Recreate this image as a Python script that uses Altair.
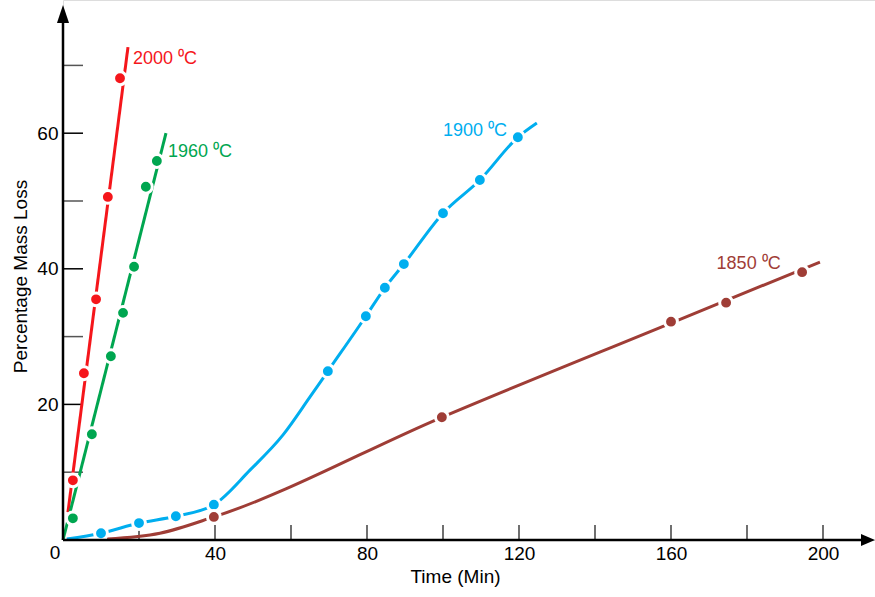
import altair as alt
import pandas as pd

# ---- data ----
series_names = ["2000 ⁰C", "1960 ⁰C", "1900 ⁰C", "1850 ⁰C"]
series_colors = ["#f5161b", "#00a650", "#00aeef", "#9f3d36"]

# marker points
red_x = [2.6, 5.5, 8.7, 11.8, 15.0]
red_y = [8.8, 24.6, 35.5, 50.6, 68.1]
green_x = [2.6, 7.6, 12.6, 15.8, 18.7, 21.8, 24.7]
green_y = [3.2, 15.6, 27.1, 33.5, 40.3, 52.1, 55.9]
blue_x = [10.0, 20.0, 29.7, 39.7, 69.7, 79.7, 84.7, 89.7, 100.0, 109.7, 119.7]
blue_y = [1.0, 2.5, 3.5, 5.2, 24.9, 33.0, 37.2, 40.7, 48.2, 53.1, 59.4]
brown_x = [39.7, 99.7, 160.0, 174.5, 194.5]
brown_y = [3.4, 18.1, 32.2, 35.0, 39.5]

# curve traces (line only, incl. ends beyond markers)
red_line_x = [1.3, 17.1]
red_line_y = [4.1, 72.7]
green_line_x = [0.0, 27.1]
green_line_y = [0.0, 60.0]
blue_line_x = [1.0, 10.0, 20.0, 29.7, 39.7, 49.2, 57.9, 65.0, 69.7, 79.7, 84.7, 89.7, 100.0, 109.7, 119.7, 124.7]
blue_line_y = [0.15, 1.0, 2.5, 3.5, 5.2, 10.3, 15.5, 21.1, 24.9, 33.0, 37.2, 40.7, 48.2, 53.1, 59.4, 61.5]
brown_line_x = [11.6, 25.5, 39.7, 99.7, 160.0, 199.2]
brown_line_y = [0.15, 1.0, 3.4, 18.1, 32.0, 41.0]

label_x = [18.4, 27.6, 100.0, 172.0]
label_y = [71.0, 57.3, 60.3, 40.7]

x_ticks = [20, 40, 60, 80, 100, 120, 140, 160, 180, 200]
x_labels = [40, 80, 120, 160, 200]
y_ticks_major = [20, 40, 60]
y_ticks_minor = [10, 30, 50, 70]

# ---- tables ----
def long(name, xs, ys):
    return pd.DataFrame({"series": name, "x": xs, "y": ys, "order": range(len(xs))})

straight = pd.concat([
    long(series_names[0], red_line_x, red_line_y),
    long(series_names[1], green_line_x, green_line_y),
])
curved = pd.concat([
    long(series_names[2], blue_line_x, blue_line_y),
    long(series_names[3], brown_line_x, brown_line_y),
])
points = pd.concat([
    long(series_names[0], red_x, red_y),
    long(series_names[1], green_x, green_y),
    long(series_names[2], blue_x, blue_y),
    long(series_names[3], brown_x, brown_y),
])
labels = pd.DataFrame({"series": series_names, "x": label_x, "y": label_y})

FONT = "Liberation Sans"
XMAX = 812 / 3.8
YMAX = 540 / 6.78

xs = alt.Scale(domain=[0, XMAX], nice=False, zero=False)
ys = alt.Scale(domain=[0, YMAX], nice=False, zero=False)
col = alt.Color("series:N", scale=alt.Scale(domain=series_names, range=series_colors), legend=None)

ax_x = alt.Axis(values=x_labels, domain=False, ticks=False, grid=False,
                labelFont=FONT, labelFontSize=19, labelColor="#000",
                labelPadding=4, title="Time (Min)", titleFont=FONT,
                titleFontSize=19, titleFontWeight="normal", titleColor="#000",
                titlePadding=4, titleX=392)
ax_y = alt.Axis(values=y_ticks_major, domain=False, ticks=False, grid=False,
                labelFont=FONT, labelFontSize=19, labelColor="#000",
                labelPadding=5, title="Percentage Mass Loss", titleFont=FONT,
                titleFontSize=19, titleFontWeight="normal", titleColor="#000",
                titleX=-37, titleY=276, titleBaseline="alphabetic", titleAngle=270)

bx = alt.X("x:Q", scale=xs, axis=ax_x, title="Time (Min)")
by = alt.Y("y:Q", scale=ys, axis=ax_y, title="Percentage Mass Loss")

def dx(v):
    return alt.datum(v, scale=xs, axis=ax_x, title="Time (Min)")

def dy(v):
    return alt.datum(v, scale=ys, axis=ax_y, title="Percentage Mass Loss")

xtick_layer = alt.Chart(pd.DataFrame({"x": x_ticks})).mark_rule(color="#222", strokeWidth=1.3).encode(
    x=bx, y=dy(0), y2=alt.datum(15 / 6.78))

ytick_major = alt.Chart(pd.DataFrame({"y": y_ticks_major})).mark_rule(color="#000", strokeWidth=1.5).encode(
    y=by, x=dx(0), x2=alt.datum(20 / 3.8))
ytick_minor = alt.Chart(pd.DataFrame({"y": y_ticks_minor})).mark_rule(color="#555", strokeWidth=1.5).encode(
    y=by, x=dx(0), x2=alt.datum(20 / 3.8))

xaxis_line = alt.Chart(pd.DataFrame({"x": [0.0], "x2": [(861 - 63) / 3.8]})).mark_rule(
    color="#000", strokeWidth=2.5).encode(x=bx, x2="x2:Q", y=dy(0))
yaxis_line = alt.Chart(pd.DataFrame({"y": [0.0], "y2": [(540 - 20) / 6.78]})).mark_rule(
    color="#000", strokeWidth=2.5).encode(y=by, y2="y2:Q", x=dx(0))

x_arrow = alt.Chart(pd.DataFrame({"x": [(868 - 63) / 3.8], "y": [0.0]})).mark_point(
    shape="M1,0L-1,0.86L-1,-0.86Z", filled=True, color="#000", opacity=1, size=196).encode(x=bx, y=by)
y_arrow = alt.Chart(pd.DataFrame({"x": [0.0], "y": [(540 - 14) / 6.78]})).mark_point(
    shape="M0,-1L0.67,1L-0.67,1Z", filled=True, color="#000", opacity=1, size=324).encode(x=bx, y=by)

zero_label = alt.Chart(pd.DataFrame({"x": [0.0], "y": [0.0], "t": ["0"]})).mark_text(
    font=FONT, fontSize=19, color="#000", align="center", baseline="middle", dx=-8, dy=13).encode(
    x=bx, y=by, text="t:N")

straight_layer = alt.Chart(straight).mark_line(strokeWidth=3).encode(
    x=bx, y=by, color=col, detail="series:N", order="order:Q")
curve_layer = alt.Chart(curved).mark_line(strokeWidth=3, interpolate="monotone").encode(
    x=bx, y=by, color=col, detail="series:N", order="order:Q")

point_layer = alt.Chart(points).mark_circle(size=165, opacity=1, stroke="white", strokeWidth=3).encode(
    x=bx, y=by, color=col)

label_layer = alt.Chart(labels).mark_text(font=FONT, fontSize=18, align="left", baseline="middle").encode(
    x=bx, y=by, text="series:N", color=col)

chart = alt.layer(
    xtick_layer, ytick_major, ytick_minor, straight_layer, curve_layer, point_layer, label_layer,
    xaxis_line, yaxis_line, x_arrow, y_arrow, zero_label,
).properties(
    width=812, height=540,
    padding={"left": 63, "top": 0, "right": 0, "bottom": 57},
    autosize=alt.AutoSizeParams(type="none"),
).configure_view(stroke=None).configure(background="white")

chart.save("out.html", embed_options={"renderer": "svg", "actions": False})
